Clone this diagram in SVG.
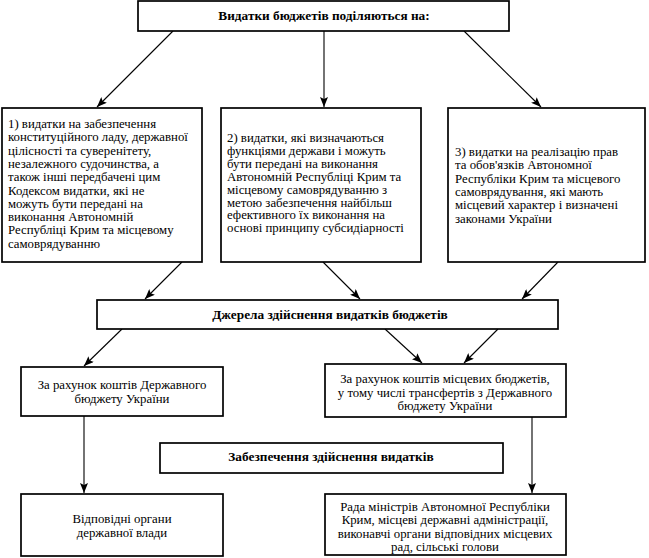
<svg xmlns="http://www.w3.org/2000/svg" width="649" height="558" viewBox="0 0 649 558">
<style>
.box{fill:#fff;stroke:#000;stroke-width:1.7}
text{font-family:'Liberation Serif','Times New Roman',Tinos,serif;font-size:12.8px;fill:#000}
.c{text-anchor:middle}
.b{font-weight:bold;font-size:13.3px}
.ln{stroke:#000;stroke-width:1.1;fill:none;marker-end:url(#ah)}
</style>
<defs>
<marker id="ah" markerUnits="userSpaceOnUse" markerWidth="11" markerHeight="8" refX="10" refY="4" orient="auto">
<path d="M0,0 L10,4 L0,8 L2,4 Z" fill="#000"/>
</marker>
</defs>
<rect width="649" height="558" fill="#fff"/>
<g id="connectors">
<line class="ln" x1="173" y1="31" x2="97" y2="107"/>
<line class="ln" x1="324" y1="31" x2="324" y2="107"/>
<line class="ln" x1="464" y1="31" x2="541" y2="107"/>
<line class="ln" x1="182" y1="262" x2="145" y2="299"/>
<line class="ln" x1="323" y1="262" x2="360" y2="299"/>
<line class="ln" x1="558" y1="262" x2="522" y2="299"/>
<line class="ln" x1="122" y1="329" x2="84" y2="366"/>
<line class="ln" x1="385" y1="329" x2="422" y2="363"/>
<line class="ln" x1="498" y1="329" x2="464" y2="363"/>
<line class="ln" x1="84" y1="416" x2="84" y2="493"/>
<line class="ln" x1="532" y1="417" x2="532" y2="493"/>
</g>
<g id="top">
<rect class="box" x="138" y="1" width="371" height="30"/>
<text class="b c" x="324" y="20">Видатки бюджетів поділяються на:</text>
</g>
<g id="n1">
<rect class="box" x="2" y="108" width="200" height="154"/>
<text>
<tspan x="8" y="128">1) видатки на забезпечення</tspan>
<tspan x="8" dy="13.3">конституційного ладу, державної</tspan>
<tspan x="8" dy="13.3">цілісності та суверенітету,</tspan>
<tspan x="8" dy="13.3">незалежного судочинства, а</tspan>
<tspan x="8" dy="13.3">також інші передбачені цим</tspan>
<tspan x="8" dy="13.3">Кодексом видатки, які не</tspan>
<tspan x="8" dy="13.3">можуть бути передані на</tspan>
<tspan x="8" dy="13.3">виконання Автономній</tspan>
<tspan x="8" dy="13.3">Республіці Крим та місцевому</tspan>
<tspan x="8" dy="13.3">самоврядуванню</tspan>
</text>
</g>
<g id="n2">
<rect class="box" x="221" y="108" width="200" height="154"/>
<text>
<tspan x="227" y="142">2) видатки, які визначаються</tspan>
<tspan x="227" dy="12.9">функціями держави і можуть</tspan>
<tspan x="227" dy="12.9">бути передані на виконання</tspan>
<tspan x="227" dy="12.9">Автономній Республіці Крим та</tspan>
<tspan x="227" dy="12.9">місцевому самоврядуванню з</tspan>
<tspan x="227" dy="12.9">метою забезпечення найбільш</tspan>
<tspan x="227" dy="12.9">ефективного їх виконання на</tspan>
<tspan x="227" dy="12.9">основі принципу субсидіарності</tspan>
</text>
</g>
<g id="n3">
<rect class="box" x="448" y="108" width="197" height="154"/>
<text>
<tspan x="455" y="156">3) видатки на реалізацію прав</tspan>
<tspan x="455" dy="13.3">та обов'язків Автономної</tspan>
<tspan x="455" dy="13.3">Республіки Крим та місцевого</tspan>
<tspan x="455" dy="13.3">самоврядування, які мають</tspan>
<tspan x="455" dy="13.3">місцевий характер і визначені</tspan>
<tspan x="455" dy="13.3">законами України</tspan>
</text>
</g>
<g id="sources">
<rect class="box" x="97" y="300" width="461" height="29"/>
<text class="b c" x="330" y="319">Джерела здійснення видатків бюджетів</text>
</g>
<g id="state">
<rect class="box" x="21" y="367" width="202" height="49"/>
<text class="c"><tspan x="122" y="389">За рахунок коштів Державного</tspan><tspan x="122" dy="14">бюджету України</tspan></text>
</g>
<g id="local">
<rect class="box" x="325" y="364" width="241" height="53"/>
<text class="c"><tspan x="445" y="383">За рахунок коштів місцевих бюджетів,</tspan><tspan x="445" dy="13.5">у тому числі трансфертів з Державного</tspan><tspan x="445" dy="13.5">бюджету України</tspan></text>
</g>
<g id="provision">
<rect class="box" x="160" y="443" width="343" height="30"/>
<text class="b c" x="331" y="461">Забезпечення здійснення видатків</text>
</g>
<g id="stateorgans">
<rect class="box" x="21" y="494" width="202" height="62"/>
<text class="c"><tspan x="122" y="523">Відповідні органи</tspan><tspan x="122" dy="14">державної влади</tspan></text>
</g>
<g id="localorgans">
<rect class="box" x="325" y="494" width="241" height="61"/>
<text class="c"><tspan x="445" y="511">Рада міністрів Автономної Республіки</tspan><tspan x="445" dy="13.4">Крим, місцеві державні адміністрації,</tspan><tspan x="445" dy="13.4">виконавчі органи відповідних місцевих</tspan><tspan x="445" dy="13.4">рад, сільські голови</tspan></text>
</g>
</svg>
